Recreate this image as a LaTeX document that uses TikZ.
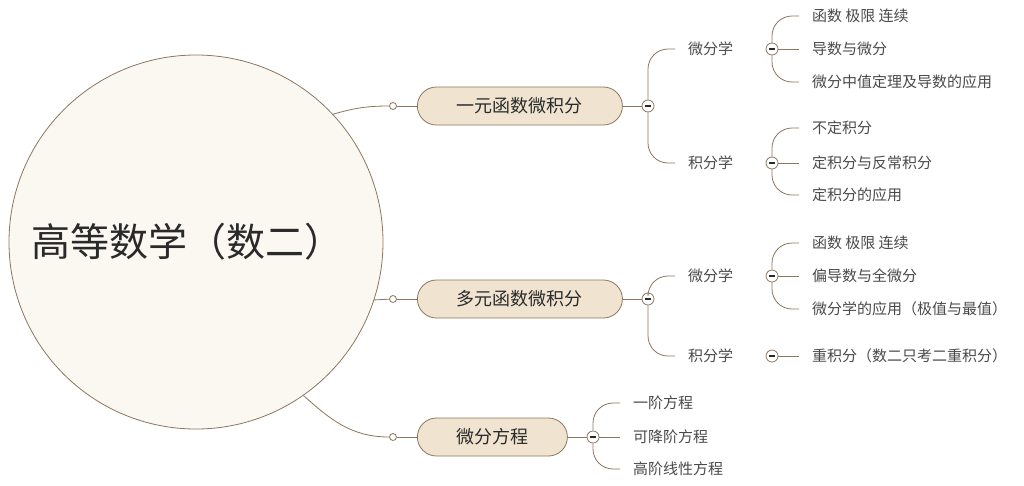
\documentclass[tikz,border=0pt]{standalone}
\usepackage{fontspec}
\setmainfont{Noto Sans CJK SC}
\usepackage{tikz}

\definecolor{linebrown}{HTML}{8B7760}
\definecolor{rootfill}{HTML}{FBF8F2}
\definecolor{boxfill}{HTML}{F0E4D1}
\definecolor{textdark}{HTML}{2A2A2A}
\definecolor{textgray}{HTML}{4A4A4A}

\begin{document}
\begin{tikzpicture}[x=1pt,y=-1pt,
    line/.style={draw=linebrown,line width=0.8pt},
    rootnode/.style={circle,draw=linebrown,line width=0.8pt,fill=rootfill,minimum size=374pt,inner sep=0pt,
      text=textdark,font=\fontsize{39}{39}\selectfont},
    topicbox/.style={rounded corners=19pt,draw=linebrown,line width=0.8pt,fill=boxfill,minimum height=38pt,
      inner sep=0pt,text=textdark,font=\fontsize{18}{18}\selectfont},
    leaf/.style={anchor=west,inner xsep=13pt,inner ysep=2pt,outer sep=0pt,text=textgray,
      font=\fontsize{15}{15}\selectfont},
    knob/.style={circle,draw=linebrown,line width=0.8pt,fill=white,minimum size=7pt,inner sep=0pt},
    fold/.style={circle,draw=linebrown,line width=0.8pt,fill=white,minimum size=12pt,inner sep=0pt,
      path picture={\draw[textdark,line width=1.1pt] ([xshift=-3pt]path picture bounding box.center)
        -- ([xshift=3pt]path picture bounding box.center);}}]
  \fill[white] (0,0) rectangle (1024,485);

  % root
  \node[rootnode] (root) at (196,242) {\hspace*{-18pt}高等数学（数二）};

  % main topics
  \foreach \i/\y/\w/\txt in {1/106/205/一元函数微积分,2/299/205/多元函数微积分,3/437/150/微分方程} {
      \node[knob] (k\i) at (393,\y) {};
      \node[topicbox,minimum width=\w pt,anchor=west] (t\i) at (417,\y) {\txt};
      \draw[line] (k\i) -- (t\i);
    }
  \draw[line] (root.43) to[out=16,in=180] (k1);
  \draw[line] (root.-18) -- (k2);
  \draw[line] (root.-55) to[out=-42,in=180] (k3);

  \node[fold] (f1) at (648,106) {};
  \node[fold] (f2) at (648,299) {};
  \node[fold] (f3) at (593,437) {};
  \foreach \i in {1,2,3} {
      \draw[line] (t\i) -- (f\i);
    }

  % second level
  \node[leaf] (a1) at (675,49) {微分学};
  \node[leaf] (a2) at (675,163) {积分学};
  \node[leaf] (b1) at (675,276) {微分学};
  \node[leaf] (b2) at (675,356) {积分学};
  \draw[line,rounded corners=20pt] (f1.north) |- (a1.west);
  \draw[line,rounded corners=20pt] (f1.south) |- (a2.west);
  \draw[line,rounded corners=20pt] (f2.north) |- (b1.west);
  \draw[line,rounded corners=20pt] (f2.south) |- (b2.west);

  \node[fold] (fa1) at (772,49) {};
  \node[fold] (fa2) at (772,163) {};
  \node[fold] (fb1) at (772,276) {};
  \node[fold] (fb2) at (772,356) {};

  % leaves
  \node[leaf] (a11) at (799,16) {函数 极限 连续};
  \node[leaf] (a12) at (799,49) {导数与微分};
  \node[leaf] (a13) at (799,82) {微分中值定理及导数的应用};
  \node[leaf] (a21) at (799,128) {不定积分};
  \node[leaf] (a22) at (799,163) {定积分与反常积分};
  \node[leaf] (a23) at (799,195) {定积分的应用};
  \node[leaf] (b11) at (799,243) {函数 极限 连续};
  \node[leaf] (b12) at (799,276) {偏导数与全微分};
  \node[leaf] (b13) at (799,309) {微分学的应用（极值与最值）};
  \node[leaf] (b21) at (799,356) {重积分（数二只考二重积分）};
  \node[leaf] (c1) at (620,403) {一阶方程};
  \node[leaf] (c2) at (620,437) {可降阶方程};
  \node[leaf] (c3) at (620,469) {高阶线性方程};

  \foreach \f/\n in {fa1/a1,fa2/a2,fb1/b1,f3/c} {
      \draw[line,rounded corners=20pt] (\f.north) |- (\n1.west);
      \draw[line] (\f.east) -- (\n2.west);
      \draw[line,rounded corners=20pt] (\f.south) |- (\n3.west);
    }
  \draw[line] (fb2.east) -- (b21.west);
\end{tikzpicture}
\end{document}
